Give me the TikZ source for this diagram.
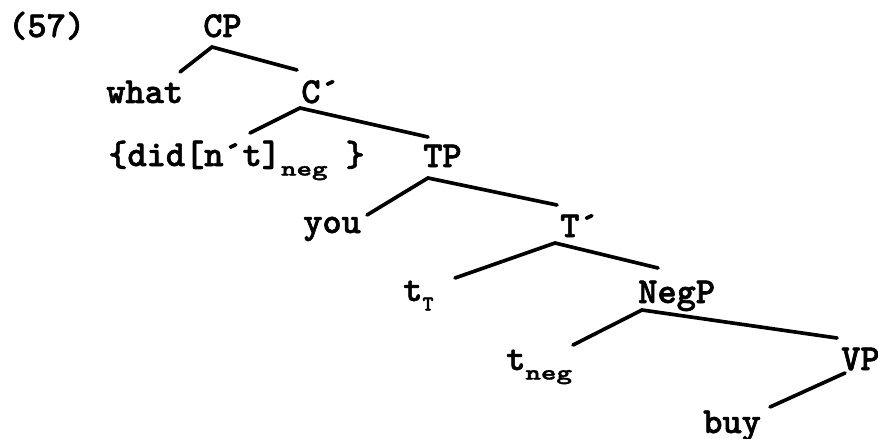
\documentclass[tikz,border=0pt]{standalone}
\usepackage{fontspec}
\usepackage{graphicx}
\newfontfamily\heavymono{lmmonolt10-bold.otf}[FakeBold=1.6]
\newcommand{\subneg}{\raisebox{-0.26em}{\scalebox{1.4}[1]{\fontsize{15}{15}\selectfont neg}}}
\newcommand{\subT}{\raisebox{-0.26em}{\fontsize{15}{15}\selectfont T}}
\begin{document}
\begin{tikzpicture}[x=0.025cm,y=-0.025cm,
  lab/.style={anchor=base west, inner sep=0pt, font=\fontsize{26}{30}\selectfont\heavymono},
  br/.style={line width=2.6pt, line cap=round}]
\useasboundingbox (0,0) rectangle (878,439);
% labels
\node[lab] (ex)   at (8,37)   {(57)};
\node[lab] (CP)   at (203,37) {CP};
\node[lab] (what) at (106,103) {what};
\node[lab] (Cb)   at (301,103) {C´};
\node[lab] (did)  at (108,166) {\{did[n´t]\subneg\hspace{0.45cm}\}};
\node[lab] (TP)   at (423,167) {TP};
\node[lab] (you)  at (303,233) {you};
\node[lab] (Tb)   at (560,237) {T´};
\node[lab] (tT)   at (403,301) {t\subT};
\node[lab] (NegP) at (638,303) {NegP};
\node[lab] (tneg) at (506,370) {t\subneg};
\node[lab] (VP)   at (841,370) {VP};
\node[lab] (buy)  at (703,433) {buy};
% joints and branch ends
\coordinate (jCP)  at (212,47);
\coordinate (eWhat) at (180,72);
\coordinate (eCb)  at (297,70);
\coordinate (jCb)  at (300,108);
\coordinate (eDid) at (250,133);
\coordinate (eTP)  at (428,137);
\coordinate (jTP)  at (428,178);
\coordinate (eYou) at (367,215);
\coordinate (eTb)  at (557,205);
\coordinate (jTb)  at (555,243);
\coordinate (etT)  at (455,278);
\coordinate (eNeg) at (658,268);
\coordinate (jNeg) at (642,310);
\coordinate (etneg) at (573,345);
\coordinate (eVP)  at (837,338);
\coordinate (jVP)  at (845,373);
\coordinate (eBuy) at (770,407);
% branches
\draw[br] (eWhat) -- (jCP) -- (eCb);
\draw[br] (eDid) -- (jCb) -- (eTP);
\draw[br] (eYou) -- (jTP) -- (eTb);
\draw[br] (etT) -- (jTb) -- (eNeg);
\draw[br] (etneg) -- (jNeg) -- (eVP);
\draw[br] (jVP) -- (eBuy);
\end{tikzpicture}
\end{document}
